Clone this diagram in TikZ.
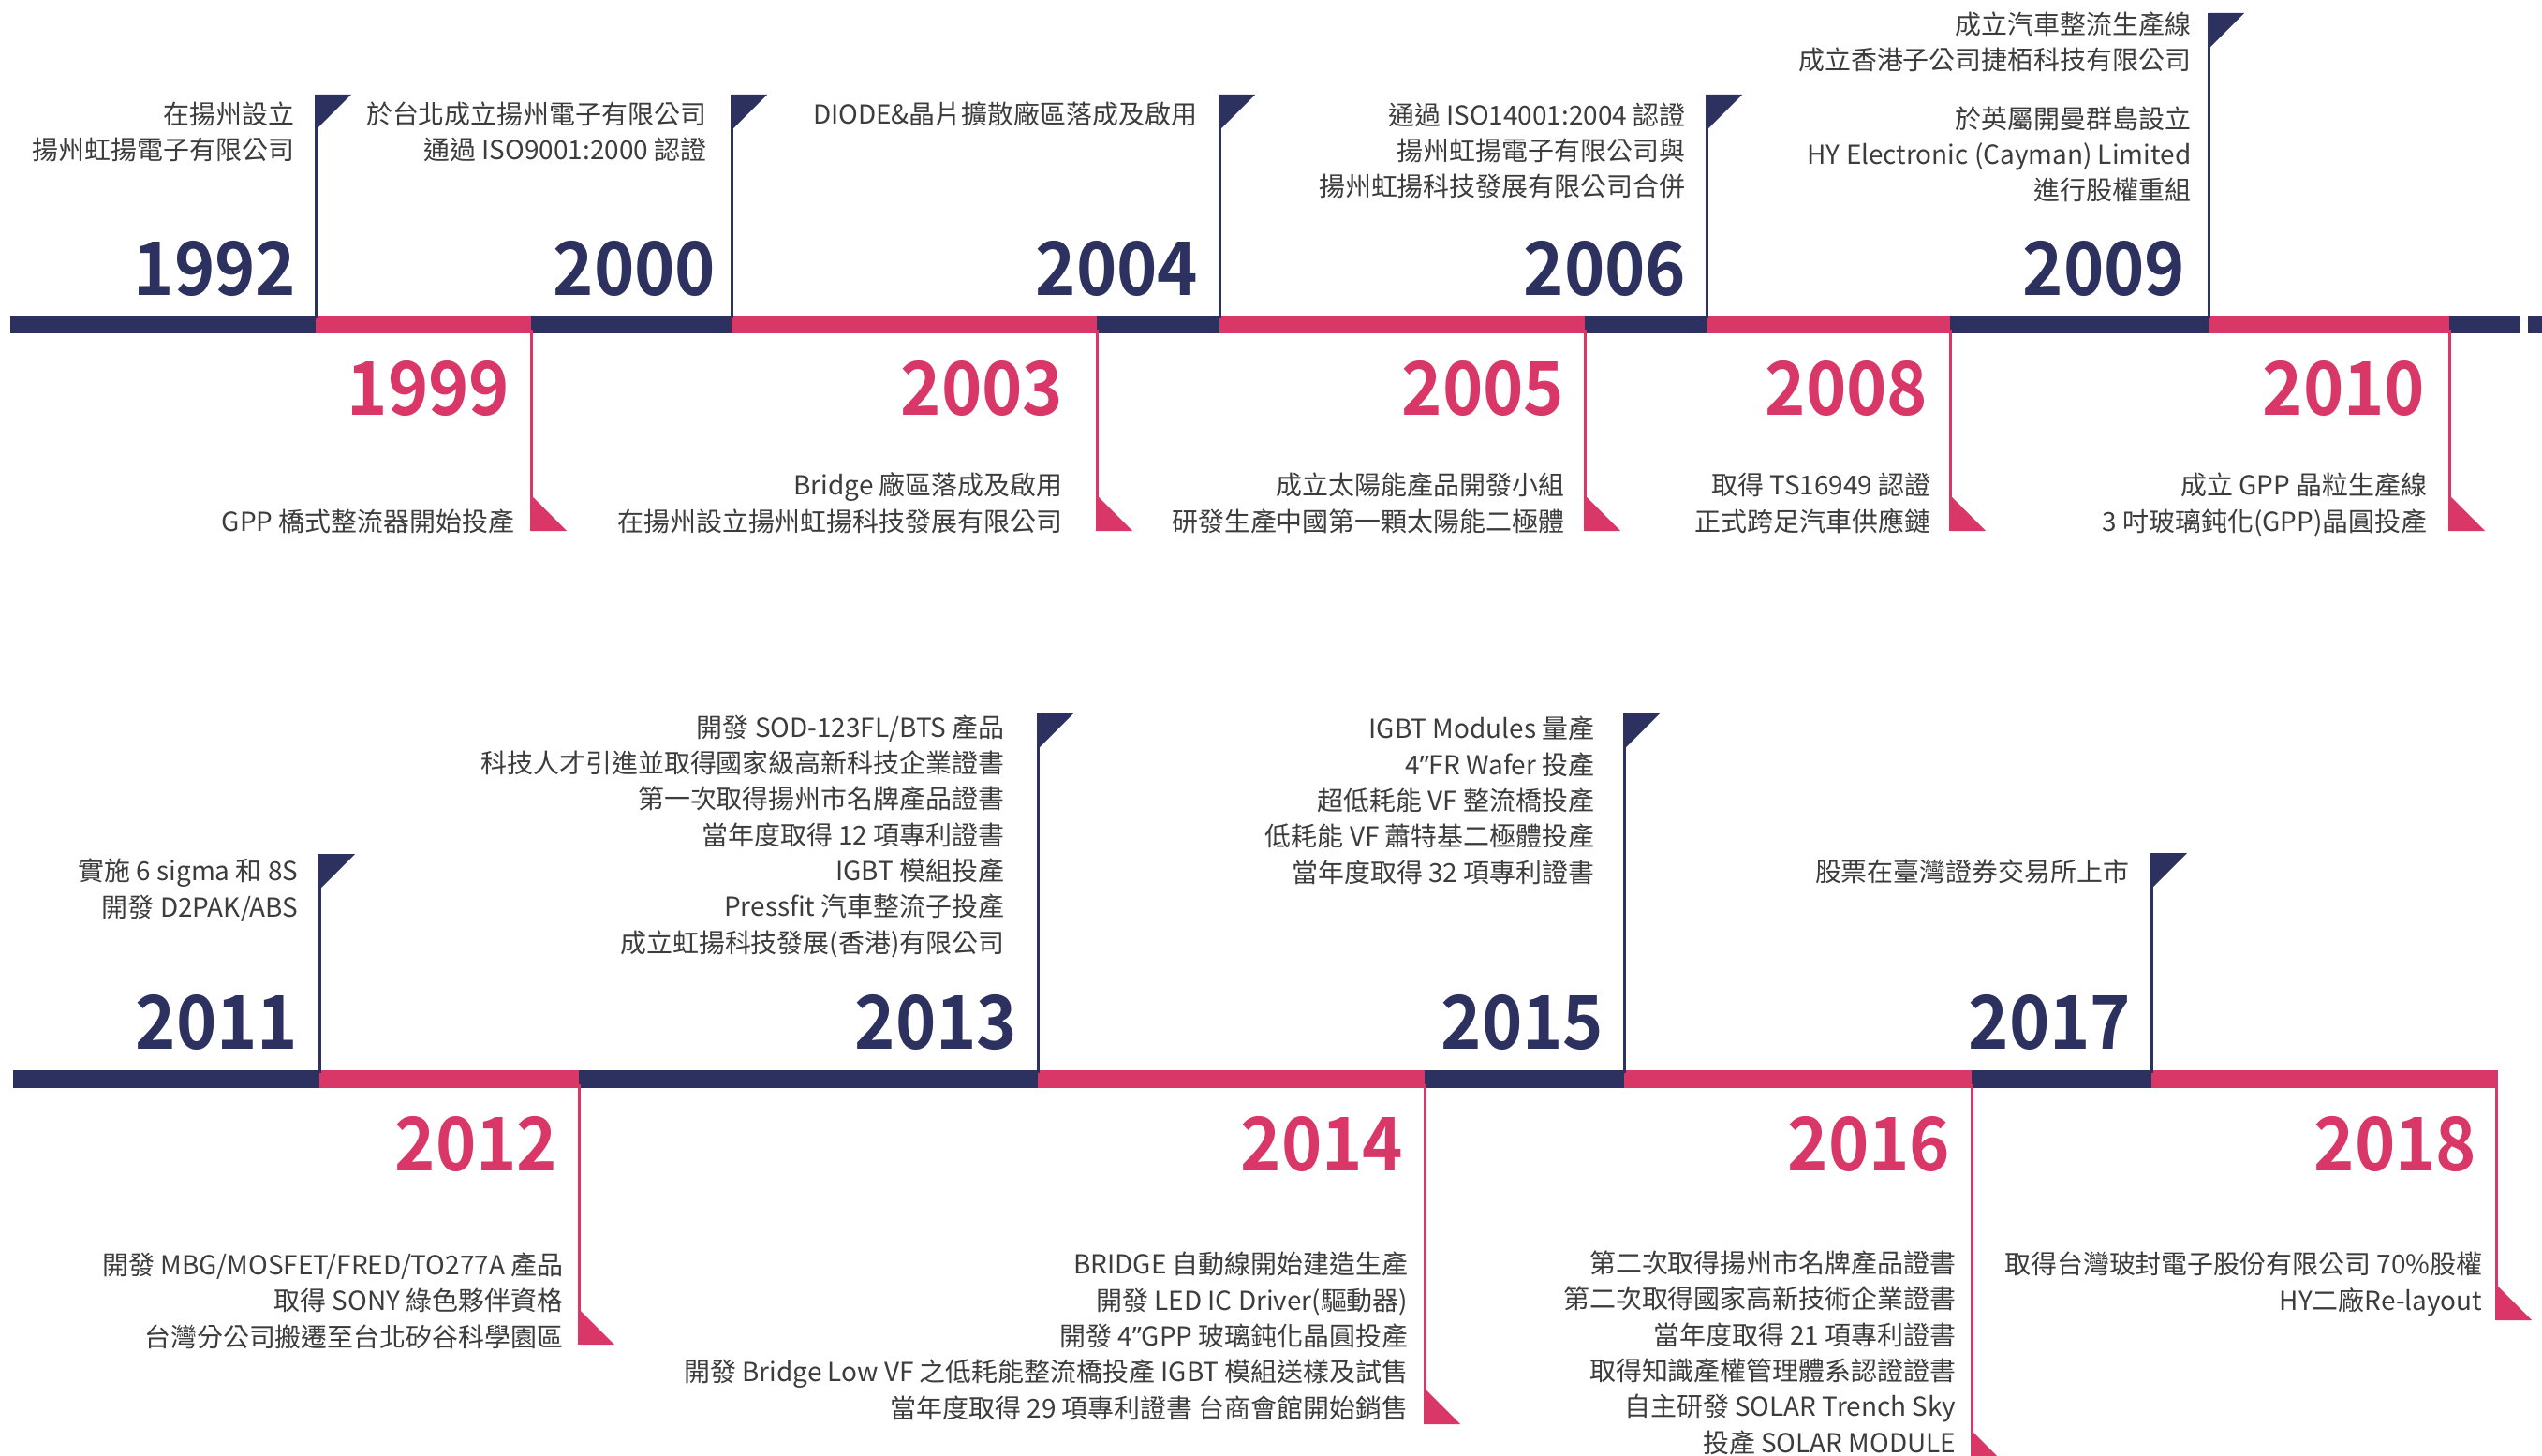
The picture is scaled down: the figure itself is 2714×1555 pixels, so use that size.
\documentclass[tikz,border=0pt]{standalone}
\usepackage{fontspec}
\setmainfont{Noto Sans CJK TC}[BoldFont={Noto Sans CJK TC Bold}]
\newfontfamily\yearfont{Noto Sans CJK TC Bold}[FakeStretch=0.93]
\newfontfamily\quotefont{Noto Sans}
\newcommand{\inch}{{\quotefont ”}}
\usepackage{tikz}
\usetikzlibrary{positioning}
\usepackage{color}

\definecolor{hynavy}{RGB}{44,49,95}
\definecolor{hypink}{RGB}{216,55,104}
\definecolor{notegray}{RGB}{60,60,60}

\tikzset{
    navypole/.style={draw=hynavy, line width=0.3mm},
    pinkpole/.style={draw=hypink, line width=0.3mm},
    yearup/.style={anchor=base east, inner sep=0pt, text=hynavy,
        font=\fontsize{22.5pt}{24pt}\yearfont},
    yeardown/.style={yearup, text=hypink},
    % base of a note = baseline of its last line
    note/.style={anchor=base east, inner sep=0pt, align=right, text=notegray,
        font=\fontsize{7.95pt}{10.9pt}\selectfont}
}

\begin{document}
\begin{tikzpicture}[x=0.1mm, y=-0.1mm]
    \useasboundingbox (0,0) rectangle (2714,1555);

    % upper time line
    \fill[hynavy] (11,337) rectangle (337,356);
    \fill[hypink] (337,337) rectangle (567,356);
    \fill[hynavy] (567,337) rectangle (781,356);
    \fill[hypink] (781,337) rectangle (1171,356);
    \fill[hynavy] (1171,337) rectangle (1302,356);
    \fill[hypink] (1302,337) rectangle (1692,356);
    \fill[hynavy] (1692,337) rectangle (1822,356);
    \fill[hypink] (1822,337) rectangle (2082,356);
    \fill[hynavy] (2082,337) rectangle (2358,356);
    \fill[hypink] (2358,337) rectangle (2615,356);
    \fill[hynavy] (2615,337) rectangle (2691,356);
    \fill[hynavy] (2699,337) rectangle (2714,356);

    % lower time line
    \fill[hynavy] (14,1143) rectangle (341,1162);
    \fill[hypink] (341,1143) rectangle (618,1162);
    \fill[hynavy] (618,1143) rectangle (1108,1162);
    \fill[hypink] (1108,1143) rectangle (1521,1162);
    \fill[hynavy] (1521,1143) rectangle (1734,1162);
    \fill[hypink] (1734,1143) rectangle (2105,1162);
    \fill[hynavy] (2105,1143) rectangle (2297,1162);
    \fill[hypink] (2297,1143) rectangle (2666,1162);

    % 1992
    \coordinate (b1992) at (337,340);
    \coordinate (f1992) at (337,101);
    \draw[navypole] (b1992) -- (f1992);
    \fill[hynavy] (f1992) -- ++(38,0) -- ++(-38,38) -- cycle;
    \node[yearup] (y1992) at (317,316) {1992};
    \node[note] (n1992) at (315,171) {在揚州設立\\揚州虹揚電子有限公司};

    % 1999
    \coordinate (b1999) at (567,352);
    \coordinate (f1999) at (567,567);
    \draw[pinkpole] (b1999) -- (f1999);
    \fill[hypink] (f1999) -- ++(0,-38) -- ++(38,38) -- cycle;
    \node[yeardown] (y1999) at (545,444) {1999};
    \node[note] (n1999) at (550,567) {GPP 橋式整流器開始投產};

    % 2000
    \coordinate (b2000) at (781,340);
    \coordinate (f2000) at (781,101);
    \draw[navypole] (b2000) -- (f2000);
    \fill[hynavy] (f2000) -- ++(38,0) -- ++(-38,38) -- cycle;
    \node[yearup] (y2000) at (765,316) {2000};
    \node[note] (n2000) at (755,171) {於台北成立揚州電子有限公司\\通過 ISO9001:2000 認證};

    % 2003
    \coordinate (b2003) at (1171,352);
    \coordinate (f2003) at (1171,567);
    \draw[pinkpole] (b2003) -- (f2003);
    \fill[hypink] (f2003) -- ++(0,-38) -- ++(38,38) -- cycle;
    \node[yeardown] (y2003) at (1136,444) {2003};
    \node[note] (n2003) at (1135,567) {Bridge 廠區落成及啟用\\在揚州設立揚州虹揚科技發展有限公司};

    % 2004
    \coordinate (b2004) at (1302,340);
    \coordinate (f2004) at (1302,101);
    \draw[navypole] (b2004) -- (f2004);
    \fill[hynavy] (f2004) -- ++(38,0) -- ++(-38,38) -- cycle;
    \node[yearup] (y2004) at (1280,316) {2004};
    \node[note] (n2004) at (1279,133) {DIODE\&晶片擴散廠區落成及啟用};

    % 2005
    \coordinate (b2005) at (1692,352);
    \coordinate (f2005) at (1692,567);
    \draw[pinkpole] (b2005) -- (f2005);
    \fill[hypink] (f2005) -- ++(0,-38) -- ++(38,38) -- cycle;
    \node[yeardown] (y2005) at (1671,444) {2005};
    \node[note] (n2005) at (1671,567) {成立太陽能產品開發小組\\研發生產中國第一顆太陽能二極體};

    % 2006
    \coordinate (b2006) at (1822,340);
    \coordinate (f2006) at (1822,101);
    \draw[navypole] (b2006) -- (f2006);
    \fill[hynavy] (f2006) -- ++(38,0) -- ++(-38,38) -- cycle;
    \node[yearup] (y2006) at (1801,316) {2006};
    \node[note] (n2006) at (1800,210) {通過 ISO14001:2004 認證\\揚州虹揚電子有限公司與\\揚州虹揚科技發展有限公司合併};

    % 2008
    \coordinate (b2008) at (2082,352);
    \coordinate (f2008) at (2082,567);
    \draw[pinkpole] (b2008) -- (f2008);
    \fill[hypink] (f2008) -- ++(0,-38) -- ++(38,38) -- cycle;
    \node[yeardown] (y2008) at (2059,444) {2008};
    \node[note] (n2008) at (2062,567) {取得 TS16949 認證\\正式跨足汽車供應鏈};

    % 2009
    \coordinate (b2009) at (2358,340);
    \coordinate (f2009) at (2358,14);
    \draw[navypole] (b2009) -- (f2009);
    \fill[hynavy] (f2009) -- ++(38,0) -- ++(-38,38) -- cycle;
    \node[yearup] (y2009) at (2334,316) {2009};
    \node[note] (n2009) at (2340,214) {成立汽車整流生產線\\成立香港子公司捷栢科技有限公司\\[2.45mm]於英屬開曼群島設立\\HY Electronic (Cayman) Limited\\進行股權重組};

    % 2010
    \coordinate (b2010) at (2615,352);
    \coordinate (f2010) at (2615,567);
    \draw[pinkpole] (b2010) -- (f2010);
    \fill[hypink] (f2010) -- ++(0,-38) -- ++(38,38) -- cycle;
    \node[yeardown] (y2010) at (2590,444) {2010};
    \node[note] (n2010) at (2592,567) {成立 GPP 晶粒生產線\\3 吋玻璃鈍化(GPP)晶圓投產};

    % 2011
    \coordinate (b2011) at (341,1146);
    \coordinate (f2011) at (341,912);
    \draw[navypole] (b2011) -- (f2011);
    \fill[hynavy] (f2011) -- ++(38,0) -- ++(-38,38) -- cycle;
    \node[yearup] (y2011) at (319,1120) {2011};
    \node[note] (n2011) at (319,979) {實施 6 sigma 和 8S\\開發 D2PAK/ABS};

    % 2012
    \coordinate (b2012) at (618,1158);
    \coordinate (f2012) at (618,1436);
    \draw[pinkpole] (b2012) -- (f2012);
    \fill[hypink] (f2012) -- ++(0,-38) -- ++(38,38) -- cycle;
    \node[yeardown] (y2012) at (596,1250) {2012};
    \node[note] (n2012) at (602,1438) {開發 MBG/MOSFET/FRED/TO277A 產品\\取得 SONY 綠色夥伴資格\\台灣分公司搬遷至台北矽谷科學園區};

    % 2013
    \coordinate (b2013) at (1108,1146);
    \coordinate (f2013) at (1108,762);
    \draw[navypole] (b2013) -- (f2013);
    \fill[hynavy] (f2013) -- ++(38,0) -- ++(-38,38) -- cycle;
    \node[yearup] (y2013) at (1087,1120) {2013};
    \node[note] (n2013) at (1073,1017) {開發 SOD-123FL/BTS 產品\\科技人才引進並取得國家級高新科技企業證書\\第一次取得揚州市名牌產品證書\\當年度取得 12 項專利證書\\IGBT 模組投產\\Pressfit 汽車整流子投產\\成立虹揚科技發展(香港)有限公司};

    % 2014
    \coordinate (b2014) at (1521,1158);
    \coordinate (f2014) at (1521,1521);
    \draw[pinkpole] (b2014) -- (f2014);
    \fill[hypink] (f2014) -- ++(0,-38) -- ++(38,38) -- cycle;
    \node[yeardown] (y2014) at (1499,1250) {2014};
    \node[note] (n2014) at (1504,1514) {BRIDGE 自動線開始建造生產\\開發 LED IC Driver(驅動器)\\開發 4\inch GPP 玻璃鈍化晶圓投產\\開發 Bridge Low VF 之低耗能整流橋投產 IGBT 模組送樣及試售\\當年度取得 29 項專利證書 台商會館開始銷售};

    % 2015
    \coordinate (b2015) at (1734,1146);
    \coordinate (f2015) at (1734,762);
    \draw[navypole] (b2015) -- (f2015);
    \fill[hynavy] (f2015) -- ++(38,0) -- ++(-38,38) -- cycle;
    \node[yearup] (y2015) at (1713,1120) {2015};
    \node[note] (n2015) at (1703,942) {IGBT Modules 量產\\4\inch FR Wafer 投產\\超低耗能 VF 整流橋投產\\低耗能 VF 蕭特基二極體投產\\當年度取得 32 項專利證書};

    % 2016
    \coordinate (b2016) at (2105,1158);
    \coordinate (f2016) at (2105,1566);
    \draw[pinkpole] (b2016) -- (f2016);
    \fill[hypink] (f2016) -- ++(0,-38) -- ++(38,38) -- cycle;
    \node[yeardown] (y2016) at (2083,1250) {2016};
    \node[note] (n2016) at (2089,1551) {第二次取得揚州市名牌產品證書\\第二次取得國家高新技術企業證書\\當年度取得 21 項專利證書\\取得知識產權管理體系認證證書\\自主研發 SOLAR Trench Sky\\投產 SOLAR MODULE};

    % 2017
    \coordinate (b2017) at (2297,1146);
    \coordinate (f2017) at (2297,911);
    \draw[navypole] (b2017) -- (f2017);
    \fill[hynavy] (f2017) -- ++(38,0) -- ++(-38,38) -- cycle;
    \node[yearup] (y2017) at (2276,1120) {2017};
    \node[note] (n2017) at (2274,941) {股票在臺灣證券交易所上市};

    % 2018
    \coordinate (b2018) at (2665,1143);
    \coordinate (f2018) at (2665,1410);
    \draw[pinkpole] (b2018) -- (f2018);
    \fill[hypink] (f2018) -- ++(0,-38) -- ++(38,38) -- cycle;
    \node[yeardown] (y2018) at (2645,1250) {2018};
    \node[note] (n2018) at (2651,1399) {取得台灣玻封電子股份有限公司 70\%股權\\HY二廠Re-layout};
\end{tikzpicture}
\end{document}
